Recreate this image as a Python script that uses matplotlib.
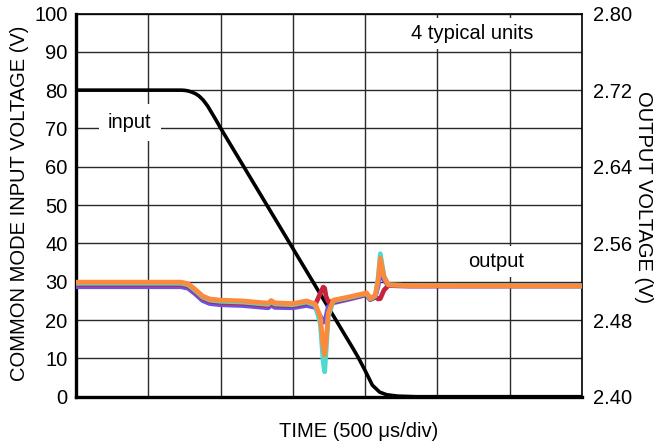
import matplotlib
matplotlib.use("Agg")
import matplotlib.pyplot as plt
import numpy as np

plt.rcParams["font.family"] = ["Liberation Sans", "DejaVu Sans"]

# Common-mode input step (left axis, volts) vs time in microseconds
input_t_us = [0, 725, 750, 775, 800, 825, 850, 880, 910, 940, 970, 1000, 1250,
              1500, 1750, 1900, 1950, 2000, 2050, 2100, 2150, 2225, 2350, 3500]
input_v = [80, 80, 79.95, 79.8, 79.5, 79.1, 78.5, 77.4, 75.9, 74.0, 72.1, 70.1,
           54.4, 38.7, 23.0, 13.6, 10.4, 6.8, 3.0, 1.2, 0.5, 0.15, 0, 0]

# Output voltage of four typical units (right axis, volts)
out_t_us = [0, 725, 775, 825, 875, 925, 1000, 1150, 1300, 1330, 1350, 1375,
            1500, 1595, 1655, 1690, 1710, 1720, 1730, 1745, 1780, 1895, 2010,
            2035, 2070, 2090, 2105, 2130, 2160, 2300, 3500]
out_purple = [2.5148, 2.5148, 2.5132, 2.5072, 2.5004, 2.4972, 2.4960, 2.4952,
              2.4932, 2.4928, 2.4956, 2.4932, 2.4928, 2.4952, 2.4932, 2.4840,
              2.4780, 2.4780, 2.4840, 2.4940, 2.4980, 2.5020, 2.5064, 2.5012,
              2.5040, 2.5160, 2.5320, 2.5220, 2.5160, 2.5156, 2.5156]
out_red = [2.5172, 2.5172, 2.5156, 2.5096, 2.5028, 2.4996, 2.4984, 2.4976,
           2.4956, 2.4952, 2.4980, 2.4956, 2.4948, 2.4976, 2.4960, 2.5080,
           2.5144, 2.5132, 2.5044, 2.4992, 2.4992, 2.5028, 2.5068, 2.5016,
           2.5040, 2.5020, 2.5024, 2.5112, 2.5160, 2.5156, 2.5156]
out_cyan = [2.5184, 2.5184, 2.5168, 2.5108, 2.5040, 2.5008, 2.4996, 2.4988,
            2.4968, 2.4964, 2.4992, 2.4968, 2.4960, 2.4988, 2.4956, 2.4760,
            2.4360, 2.4260, 2.4480, 2.4840, 2.5000, 2.5036, 2.5076, 2.5020,
            2.5052, 2.5240, 2.5492, 2.5260, 2.5168, 2.5160, 2.5156]
out_orange = [2.5196, 2.5196, 2.5180, 2.5120, 2.5052, 2.5020, 2.5008, 2.5000,
              2.4980, 2.4976, 2.5004, 2.4980, 2.4972, 2.5000, 2.4968, 2.4836,
              2.4520, 2.4436, 2.4580, 2.4872, 2.5008, 2.5044, 2.5084, 2.5028,
              2.5060, 2.5216, 2.5444, 2.5252, 2.5168, 2.5160, 2.5156]

left_ticks = list(range(0, 101, 10))
right_ticks = [2.40, 2.48, 2.56, 2.64, 2.72, 2.80]
time_ticks_us = list(range(0, 3501, 500))

FS = 14.5
W, H = 655, 446
fig = plt.figure(figsize=(W / 100, H / 100), dpi=100)
x0, x1, y_top, y_bot = 76, 582, 13.5, 396.7
ax = fig.add_axes([x0 / W, 1 - y_bot / H, (x1 - x0) / W, (y_bot - y_top) / H])

ax.set_xlim(0, 3500)
ax.set_ylim(0, 100)
ax.set_xticks(time_ticks_us)
ax.set_xticklabels([])
ax.set_yticks(left_ticks)
ax.tick_params(axis="both", length=0)
ax.tick_params(axis="y", labelsize=FS, pad=6)
ax.grid(True, color="#2a2a2a", lw=1.0)
ax.set_axisbelow(True)
for side in ("left", "bottom"):
    ax.spines[side].set_linewidth(2.4)
for side in ("top", "right"):
    ax.spines[side].set_linewidth(1.2)

ax.plot(input_t_us, input_v, color="black", lw=2.6, solid_joinstyle="round",
        solid_capstyle="round", zorder=3)

box = dict(facecolor="white", edgecolor="none", boxstyle="square,pad=0.3")
ax.text(373, 70.1, "input", fontsize=FS, ha="center", va="baseline",
        bbox=dict(facecolor="white", edgecolor="none", boxstyle="square,pad=0.45"),
        zorder=4)
ax.text(2742, 93.3, "4 typical units", fontsize=FS, ha="center", va="baseline",
        bbox=box, zorder=4)
ax.text(2909, 33.8, "output", fontsize=FS, ha="center", va="baseline",
        bbox=box, zorder=4)

ax2 = ax.twinx()
ax2.set_ylim(2.40, 2.80)
ax2.set_yticks(right_ticks)
ax2.set_yticklabels([f"{v:.2f}" for v in right_ticks])
ax2.tick_params(axis="y", length=0, pad=8, labelsize=FS)
for s in ax2.spines.values():
    s.set_visible(False)

lw_out = 3.4
ax2.plot(out_t_us, out_purple, color="#6b52ea", lw=lw_out, solid_joinstyle="round")
ax2.plot(out_t_us, out_red, color="#c4243e", lw=lw_out, solid_joinstyle="round")
ax2.plot(out_t_us, out_cyan, color="#4fd8d0", lw=lw_out, solid_joinstyle="round")
ax2.plot(out_t_us, out_orange, color="#fb8a3c", lw=lw_out, solid_joinstyle="round")

fig.text(19.5 / W, 1 - 203 / H, "COMMON MODE INPUT VOLTAGE (V)", fontsize=FS,
         rotation=90, ha="center", va="center")
fig.text(644 / W, 1 - 197.5 / H, "OUTPUT VOLTAGE (V)", fontsize=FS,
         rotation=270, ha="center", va="center")
fig.text(359 / W, 1 - 436.7 / H, "TIME (500 μs/div)", fontsize=FS,
         ha="center", va="baseline")

fig.savefig("out.png", dpi=100)
